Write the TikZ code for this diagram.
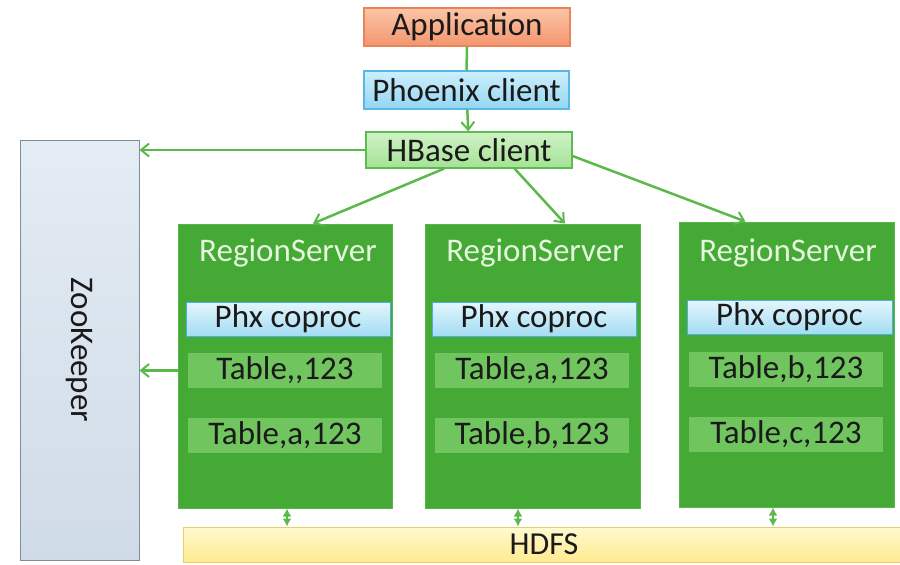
\documentclass[tikz,border=0pt]{standalone}
\usepackage{fontspec}
\setmainfont{Carlito}
\usetikzlibrary{arrows.meta,calc}
\definecolor{lnk}{HTML}{5BB84B}
\definecolor{rsgreen}{HTML}{45A935}
\definecolor{rsedge}{HTML}{57B648}
\definecolor{tblgreen}{HTML}{70C55E}
\definecolor{rstext}{HTML}{E6F6DE}
\definecolor{txt}{HTML}{1A1A1A}
\definecolor{appedge}{HTML}{E8835C}
\definecolor{apptop}{HTML}{FBC6A6}
\definecolor{appbot}{HTML}{F3956F}
\definecolor{phxedge}{HTML}{5AB6E2}
\definecolor{phxtop}{HTML}{CDEFFC}
\definecolor{phxbot}{HTML}{93D6F2}
\definecolor{hbedge}{HTML}{5DBB4F}
\definecolor{hbtop}{HTML}{CFF2C6}
\definecolor{hbbot}{HTML}{A5E296}
\definecolor{zkedge}{HTML}{7F8C99}
\definecolor{zktop}{HTML}{E4ECF4}
\definecolor{zkbot}{HTML}{CFDBE7}
\definecolor{cpedge}{HTML}{4FAEDD}
\definecolor{cptop}{HTML}{E4F6FD}
\definecolor{cpbot}{HTML}{A3DCF3}
\definecolor{hdedge}{HTML}{E3CF6A}
\definecolor{hdtop}{HTML}{FFF9D0}
\definecolor{hdbot}{HTML}{FFEB90}
\begin{document}
\begin{tikzpicture}[x=1pt,y=-1pt,
  every node/.style={font=\fontsize{33}{36}\selectfont, text=txt, inner sep=0pt},
  appbox/.style={draw=appedge, line width=1.2pt, top color=apptop, bottom color=appbot},
  phxbox/.style={draw=phxedge, line width=1.2pt, top color=phxtop, bottom color=phxbot},
  hbbox/.style={draw=hbedge, line width=1.2pt, top color=hbtop, bottom color=hbbot},
  zkbox/.style={draw=zkedge, line width=1pt, top color=zktop, bottom color=zkbot},
  rsbox/.style={draw=rsedge, line width=1pt, fill=rsgreen},
  rslabel/.style={text=rstext},
  coproc/.style={draw=cpedge, line width=1pt, top color=cptop, bottom color=cpbot, minimum height=34pt},
  tblbox/.style={fill=tblgreen, minimum width=194pt, minimum height=35pt},
  hdfsbox/.style={draw=hdedge, line width=1pt, top color=hdtop, bottom color=hdbot},
  arr/.style={draw=lnk, line width=2.5pt, -{Straight Barb[length=8pt,width=13pt,line width=2pt]}},
  plain/.style={draw=lnk, line width=2.5pt},
  dbl/.style={draw=lnk, line width=1.8pt, {Latex[length=8pt,width=9pt]}-{Latex[length=8pt,width=9pt]}}
]
\useasboundingbox (0,0) rectangle (900,565);

% top clients
\node[appbox, minimum width=206pt, minimum height=38pt] (app) at (467,27) {Application};
\node[phxbox, minimum width=205pt, minimum height=38pt] (phx) at (466.5,90) {Phoenix client};
\node[hbbox, minimum width=206pt, minimum height=36pt] (hb) at (469,150) {HBase client};

% ZooKeeper
\node[zkbox, minimum width=119pt, minimum height=420pt] (zk) at (79.5,350) {};
\node[rotate=-90] (zkl) at (zk.center) {ZooKeeper};

% RegionServers
\node[rsbox, minimum width=214pt, minimum height=284pt] (rs1) at (285,366) {};
\node[rslabel] (rs1t) at (288,253) {RegionServer};
\node[coproc, minimum width=204pt] (rs1c) at (288,319) {Phx coproc};
\node[tblbox] (rs1a) at (285,370.5) {Table{,}{,}123};
\node[tblbox] (rs1b) at (285,435.5) {Table,a,123};

\node[rsbox, minimum width=215pt, minimum height=284pt] (rs2) at (532.5,366) {};
\node[rslabel] (rs2t) at (535,253) {RegionServer};
\node[coproc, minimum width=204pt] (rs2c) at (534,319) {Phx coproc};
\node[tblbox] (rs2a) at (532,370.5) {Table,a,123};
\node[tblbox] (rs2b) at (532,435.5) {Table,b,123};

\node[rsbox, minimum width=215pt, minimum height=285pt] (rs3) at (786.5,364.5) {};
\node[rslabel] (rs3t) at (788,253) {RegionServer};
\node[coproc, minimum width=205pt] (rs3c) at (789.5,317) {Phx coproc};
\node[tblbox] (rs3a) at (786,369) {Table,b,123};
\node[tblbox] (rs3b) at (786,434.5) {Table,c,123};

% HDFS
\node[hdfsbox, minimum width=722pt, minimum height=35pt] (hdfs) at (544,544.5) {\fontsize{32}{34}\selectfont HDFS};

% connectors
\draw[plain] (app) -- (phx);
\draw[arr] (phx) -- (hb);
\draw[arr] (hb.west) -- (hb.west -| zk.east);
\draw[arr] (rs1a.west -| rs1.west) -- (rs1a.west -| zk.east);
\coordinate (h1) at ($(hb.south west)!0.38!(hb.south east)$);
\coordinate (h2) at ($(hb.south west)!0.72!(hb.south east)$);
\draw[arr] (h1) -- ($(rs1.north west)!0.63!(rs1.north east)$);
\draw[arr] (h2) -- ($(rs2.north west)!0.65!(rs2.north east)$);
\draw[arr] ($(hb.east)+(0,6)$) -- ($(rs3.north west)!0.31!(rs3.north east)$);

\coordinate (c1) at (287,0);
\coordinate (c2) at (518,0);
\coordinate (c3) at (773,0);
\draw[dbl] (rs1.south -| c1) -- (hdfs.north -| c1);
\draw[dbl] (rs2.south -| c2) -- (hdfs.north -| c2);
\draw[dbl] (rs3.south -| c3) -- (hdfs.north -| c3);
\end{tikzpicture}
\end{document}
